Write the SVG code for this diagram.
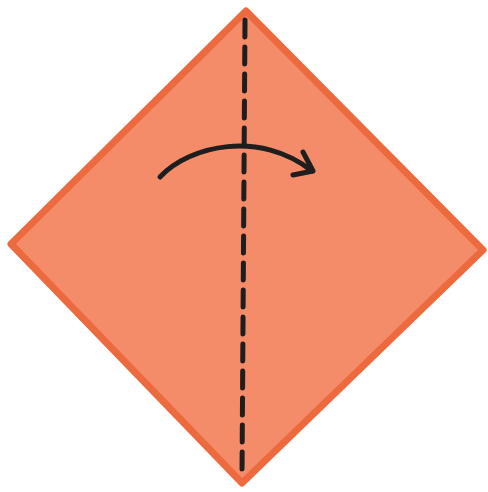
<svg xmlns="http://www.w3.org/2000/svg" width="488" height="492" viewBox="0 0 488 492">
<style>
.paper{fill:#F48C69;stroke:#EC6A3D;stroke-width:7;stroke-linejoin:round}
.fold{fill:none;stroke:#1E1E1E;stroke-width:5;stroke-dasharray:17 10;stroke-linecap:round}
.arrow{fill:none;stroke:#1E1E1E;stroke-width:5;stroke-linecap:round;stroke-linejoin:round}
</style>
<rect width="488" height="492" fill="#fff"/>
<g id="paper">
<polygon class="paper" points="246,11 483,250 242,483 11,244"/>
</g>
<g id="connectors">
<line class="fold" x1="245" y1="20" x2="242" y2="476"/>
<path class="arrow" d="M160,177 C190,145 260,130 312,171"/>
<path class="arrow" d="M303,152 L313,171 L293,175"/>
</g>
</svg>
